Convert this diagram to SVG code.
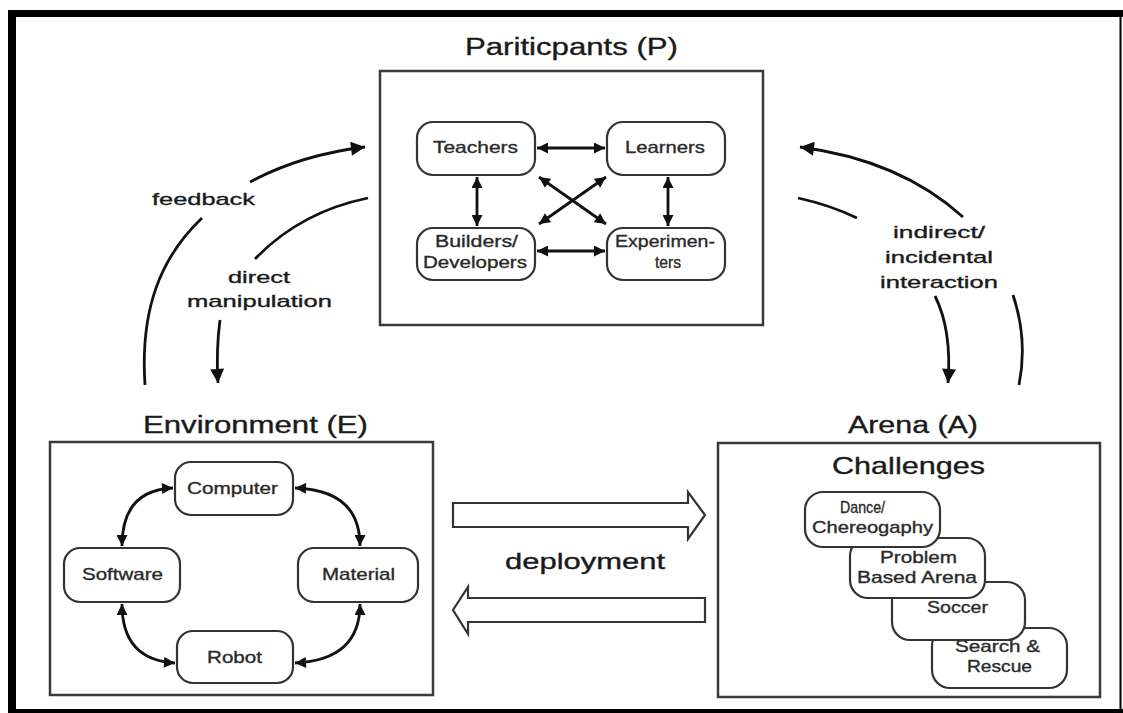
<svg xmlns="http://www.w3.org/2000/svg" width="1123" height="713" viewBox="0 0 1123 713">
  <defs>
    <style>
      .box { fill: none; stroke: #3a3a3a; stroke-width: 2.5; }
      .node { fill: #fff; stroke: #333; stroke-width: 2.2; }
      .link { fill: none; stroke: #111; stroke-width: 2.8; }
      .curve { fill: none; stroke: #111; stroke-width: 2.8; }
      .block { fill: #fff; stroke: #333; stroke-width: 2.2; stroke-linejoin: miter; }
      text { font-family: "Liberation Sans", Arial, sans-serif; fill: #1a1a1a; text-anchor: middle; stroke: #1a1a1a; stroke-width: 0.35; }
      .title { font-size: 23px; }
      .label { font-size: 17px; }
      .ntext { font-size: 17px; fill: #2a2a2a; stroke: #2a2a2a; }
    </style>
    <marker id="head" viewBox="0 0 10 10" refX="10" refY="5" markerWidth="12" markerHeight="11" markerUnits="userSpaceOnUse" orient="auto-start-reverse">
      <path d="M0,0 L10,5 L0,10 Z" fill="#111"/>
    </marker>
    <marker id="bighead" viewBox="0 0 10 10" refX="10" refY="5" markerWidth="16" markerHeight="14" markerUnits="userSpaceOnUse" orient="auto">
      <path d="M0,0 L10,5 L0,10 Z" fill="#111"/>
    </marker>
  </defs>

  <rect x="0" y="0" width="1123" height="713" fill="#fff"/>

  <!-- outer frame -->
  <g id="frame">
    <rect x="8" y="10" width="1115" height="7" fill="#000"/>
    <rect x="8" y="10" width="8" height="703" fill="#000"/>
    <rect x="8" y="709" width="1115" height="4" fill="#000"/>
    <rect x="1119.5" y="17" width="2" height="692" fill="#000"/>
  </g>

  <!-- Participants -->
  <g id="participants">
    <text class="title" x="571.5" y="55" textLength="213" lengthAdjust="spacingAndGlyphs">Pariticpants (P)</text>
    <rect class="box" x="380" y="71" width="383" height="254"/>
  </g>
  <g id="teachers">
    <rect class="node" x="417" y="122" width="118" height="53" rx="16"/>
    <text class="ntext" x="475.5" y="153" textLength="85" lengthAdjust="spacingAndGlyphs">Teachers</text>
  </g>
  <g id="learners">
    <rect class="node" x="607" y="122" width="118" height="53" rx="16"/>
    <text class="ntext" x="665" y="153" textLength="80" lengthAdjust="spacingAndGlyphs">Learners</text>
  </g>
  <g id="builders">
    <rect class="node" x="417" y="228" width="118" height="52" rx="16"/>
    <text class="ntext" x="476.5" y="247" textLength="83" lengthAdjust="spacingAndGlyphs">Builders/</text>
    <text class="ntext" x="475" y="268" textLength="104" lengthAdjust="spacingAndGlyphs">Developers</text>
  </g>
  <g id="experimenters">
    <rect class="node" x="607" y="228" width="118" height="52" rx="16"/>
    <text class="ntext" x="665" y="247" textLength="100" lengthAdjust="spacingAndGlyphs">Experimen-</text>
    <text class="ntext" x="668" y="268" textLength="26" lengthAdjust="spacingAndGlyphs">ters</text>
  </g>

  <!-- Environment -->
  <g id="environment">
    <text class="title" x="255.5" y="433" textLength="225" lengthAdjust="spacingAndGlyphs">Environment (E)</text>
    <rect class="box" x="50" y="442" width="383" height="253"/>
  </g>
  <g id="computer">
    <rect class="node" x="175" y="462" width="118" height="53" rx="16"/>
    <text class="ntext" x="232.5" y="494" textLength="91" lengthAdjust="spacingAndGlyphs">Computer</text>
  </g>
  <g id="software">
    <rect class="node" x="64" y="548" width="116" height="54" rx="16"/>
    <text class="ntext" x="122.5" y="580" textLength="81" lengthAdjust="spacingAndGlyphs">Software</text>
  </g>
  <g id="material">
    <rect class="node" x="298" y="548" width="120" height="54" rx="16"/>
    <text class="ntext" x="358.5" y="580" textLength="73" lengthAdjust="spacingAndGlyphs">Material</text>
  </g>
  <g id="robot">
    <rect class="node" x="177" y="631" width="116" height="52" rx="16"/>
    <text class="ntext" x="234.5" y="663" textLength="55" lengthAdjust="spacingAndGlyphs">Robot</text>
  </g>

  <!-- Arena -->
  <g id="arena">
    <text class="title" x="913" y="433" textLength="130" lengthAdjust="spacingAndGlyphs">Arena (A)</text>
    <rect class="box" x="718" y="443" width="382" height="254"/>
    <text class="title" x="908.5" y="474" textLength="153" lengthAdjust="spacingAndGlyphs" style="font-size:24px">Challenges</text>
  </g>
  <!-- challenge cards, painted back to front -->
  <g id="search-rescue">
    <rect class="node" x="932" y="628" width="135" height="60" rx="18"/>
    <text class="ntext" x="997.5" y="652" textLength="85" lengthAdjust="spacingAndGlyphs">Search &amp;</text>
    <text class="ntext" x="999.5" y="672" textLength="65" lengthAdjust="spacingAndGlyphs">Rescue</text>
  </g>
  <g id="soccer">
    <rect class="node" x="892" y="582" width="133" height="58" rx="18"/>
    <text class="ntext" x="957.5" y="613" textLength="61" lengthAdjust="spacingAndGlyphs">Soccer</text>
  </g>
  <g id="problem-based">
    <rect class="node" x="850" y="538" width="135" height="60" rx="18"/>
    <text class="ntext" x="918.5" y="563" textLength="77" lengthAdjust="spacingAndGlyphs">Problem</text>
    <text class="ntext" x="917" y="583" textLength="120" lengthAdjust="spacingAndGlyphs">Based Arena</text>
  </g>
  <g id="dance">
    <rect class="node" x="805" y="492" width="135" height="55" rx="18"/>
    <text class="ntext" x="862.5" y="513" textLength="45" lengthAdjust="spacingAndGlyphs">Dance/</text>
    <text class="ntext" x="872.5" y="533" textLength="121" lengthAdjust="spacingAndGlyphs">Chereogaphy</text>
  </g>

  <!-- connectors -->
  <g id="connectors">
    <!-- among participants -->
    <path class="link" d="M537,148 L605,148" marker-start="url(#head)" marker-end="url(#head)"/>
    <path class="link" d="M477,177 L477,226" marker-start="url(#head)" marker-end="url(#head)"/>
    <path class="link" d="M668,177 L668,226" marker-start="url(#head)" marker-end="url(#head)"/>
    <path class="link" d="M537,251 L605,251" marker-start="url(#head)" marker-end="url(#head)"/>
    <path class="link" d="M539,177 L606,224" marker-start="url(#head)" marker-end="url(#head)"/>
    <path class="link" d="M606,177 L539,224" marker-start="url(#head)" marker-end="url(#head)"/>

    <!-- environment ring -->
    <path class="link" d="M173,488 Q122,490 122,546" marker-start="url(#head)" marker-end="url(#head)"/>
    <path class="link" d="M295,488 Q360,490 360,546" marker-start="url(#head)" marker-end="url(#head)"/>
    <path class="link" d="M122,604 Q122,660 175,663" marker-start="url(#head)" marker-end="url(#head)"/>
    <path class="link" d="M360,604 Q360,660 295,663" marker-start="url(#head)" marker-end="url(#head)"/>

    <!-- feedback -->
    <path class="curve" d="M145,385 C140,310 160,258 202,218"/>
    <path class="curve" d="M250,182 Q300,155 365,147" marker-end="url(#bighead)"/>
    <text class="label" x="203.5" y="205" textLength="103" lengthAdjust="spacingAndGlyphs">feedback</text>

    <!-- direct manipulation -->
    <path class="curve" d="M368,198 Q300,212 255,259"/>
    <path class="curve" d="M220,320 Q216,350 218,383" marker-end="url(#bighead)"/>
    <text class="label" x="259" y="283" textLength="62" lengthAdjust="spacingAndGlyphs">direct</text>
    <text class="label" x="259.5" y="307" textLength="145" lengthAdjust="spacingAndGlyphs">manipulation</text>

    <!-- indirect / incidental interaction -->
    <path class="curve" d="M963,217 Q900,160 800,147" marker-end="url(#bighead)"/>
    <path class="curve" d="M798,198 Q830,205 857,218"/>
    <path class="curve" d="M1013,295 Q1028,340 1019,385"/>
    <path class="curve" d="M935,296 Q952,330 948,383" marker-end="url(#bighead)"/>
    <text class="label" x="939" y="238" textLength="92" lengthAdjust="spacingAndGlyphs">indirect/</text>
    <text class="label" x="939" y="263" textLength="108" lengthAdjust="spacingAndGlyphs">incidental</text>
    <text class="label" x="939" y="288" textLength="118" lengthAdjust="spacingAndGlyphs">interaction</text>

    <!-- deployment -->
    <polygon class="block" points="453,503 688,503 688,492 705,515 688,539 688,527 453,527"/>
    <polygon class="block" points="705,598 468,598 468,587 453,610 468,634 468,622 705,622"/>
    <text class="title" x="585" y="569" textLength="160" lengthAdjust="spacingAndGlyphs" style="font-size:22px">deployment</text>
  </g>
</svg>
